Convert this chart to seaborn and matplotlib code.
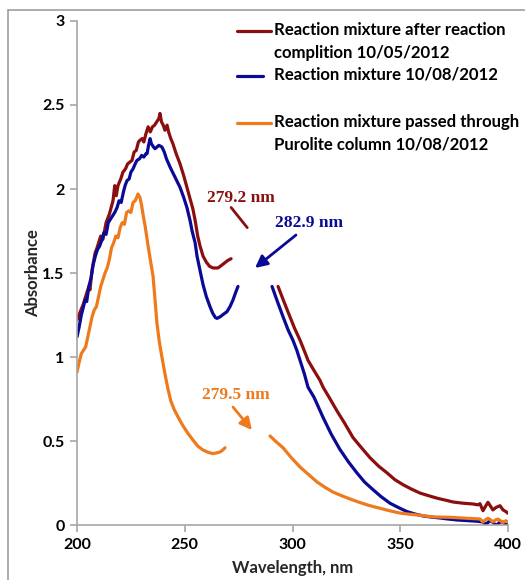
import numpy as np
import pandas as pd
import matplotlib
matplotlib.use("Agg")
import matplotlib.pyplot as plt
from matplotlib.lines import Line2D
import seaborn as sns

# UV-Vis spectra; each series is split into two traces where the peak label sits
after_completion_wl_a = [200, 201.5, 202.8, 204, 205.5, 206, 207, 208.4, 209.3, 211, 212, 213.5, 215,
                         216.7, 217.5, 218.2, 219, 220.3, 221.3, 222.5, 223.5, 224.5, 225.5, 226.5,
                         227.5, 228.5, 229.2, 230.2, 231, 232, 233, 234, 235, 236, 237, 238, 238.5,
                         239.2, 240, 240.8, 241.8, 242.5, 243.5, 244.5, 246, 247.8, 249.5, 251, 252.5,
                         253.8, 255, 256, 257.1, 258.5, 260, 261.5, 263.1, 265.4, 267, 268.5, 270, 271.5]
after_completion_abs_a = [1.22, 1.27, 1.31, 1.36, 1.42, 1.40, 1.52, 1.62, 1.65, 1.72, 1.70, 1.80, 1.85,
                          1.93, 2.02, 1.96, 2.02, 2.06, 2.10, 2.12, 2.15, 2.16, 2.17, 2.22,
                          2.23, 2.28, 2.29, 2.30, 2.28, 2.33, 2.37, 2.34, 2.37, 2.38, 2.40, 2.42, 2.45,
                          2.40, 2.38, 2.35, 2.38, 2.34, 2.30, 2.27, 2.21, 2.15, 2.08, 2.01, 1.94,
                          1.88, 1.80, 1.72, 1.66, 1.60, 1.565, 1.54, 1.53, 1.53, 1.545, 1.56, 1.575, 1.585]
after_completion_wl_b = [293.3, 296, 298.8, 301, 303.5, 306, 307.2, 309.5, 312.8, 314.2, 317, 320.6,
                         324, 328.1, 332, 336, 340, 343.9, 347.5, 351.3, 355, 359.2, 363, 367, 371,
                         374.5, 379, 383.8, 386, 387, 388.4, 389.5, 390.7, 392, 393, 394.5, 396.3,
                         397.7, 399, 400]
after_completion_abs_b = [1.42, 1.33, 1.24, 1.17, 1.10, 1.02, 0.98, 0.93, 0.86, 0.82, 0.76, 0.68,
                          0.61, 0.52, 0.46, 0.40, 0.35, 0.31, 0.27, 0.24, 0.215, 0.19, 0.175, 0.16, 0.148,
                          0.137, 0.13, 0.125, 0.12, 0.127, 0.085, 0.11, 0.135, 0.11, 0.09, 0.105, 0.115,
                          0.09, 0.08, 0.07]

mixture_wl_a = [200, 201, 202, 203, 203.8, 204.5, 205.5, 206.5, 207.5, 208.5, 209.5, 210.5, 211.6,
                212.5, 213.5, 214.5, 215.5, 216.5, 217.5, 218.6, 219.5, 220.5, 221.5, 222.3, 223.2,
                224.2, 225, 226, 227, 227.8, 229, 230, 231, 232, 232.5, 233.2, 233.9, 234.5, 235.5,
                236.2, 237.1, 238, 239.4, 240.5, 241.5, 243.2, 245.5, 247.8, 249.5, 251, 252.5,
                253.4, 254.8, 255.7, 257, 258.5, 260, 261.7, 263, 264.2, 265, 266.5, 268, 269.6,
                271, 272.4, 273.5, 274.7]
mixture_abs_a = [1.12, 1.18, 1.25, 1.30, 1.34, 1.33, 1.42, 1.47, 1.55, 1.60, 1.64, 1.66, 1.70,
                 1.74, 1.73, 1.80, 1.82, 1.84, 1.86, 1.89, 1.93, 1.92, 1.98, 2.02, 2.05,
                 2.06, 2.10, 2.12, 2.15, 2.17, 2.18, 2.20, 2.19, 2.21, 2.21, 2.26, 2.30, 2.27, 2.25,
                 2.24, 2.25, 2.26, 2.25, 2.22, 2.18, 2.13, 2.07, 2.01, 1.95, 1.89, 1.81,
                 1.75, 1.68, 1.60, 1.52, 1.43, 1.36, 1.30, 1.26, 1.235, 1.23, 1.24, 1.255, 1.27,
                 1.30, 1.34, 1.38, 1.42]
mixture_wl_b = [290.5, 293, 295.6, 298, 300.2, 302, 303.5, 305.5, 307.2, 310, 314.2, 318, 322, 326,
                329.9, 333.5, 337.4, 341, 345.2, 349, 353.1, 357, 360.6, 364.5, 368.4, 372, 376.3,
                380, 383.8, 386, 388.4, 389.5, 390.3, 391.5, 392.6, 393.8, 394.9, 396, 397.2,
                398.5, 400]
mixture_abs_b = [1.42, 1.33, 1.24, 1.16, 1.10, 1.04, 0.98, 0.90, 0.82, 0.76, 0.64, 0.54, 0.45, 0.375,
                 0.31, 0.255, 0.21, 0.17, 0.13, 0.105, 0.08, 0.065, 0.054, 0.047, 0.042, 0.036, 0.03,
                 0.027, 0.024, 0.022, 0.018, 0.005, 0.01, 0.025, 0.02, 0.005, 0.0, 0.015, 0.02,
                 0.005, 0.0]

purolite_wl_a = [200, 201, 202, 203, 204, 205, 206, 207, 208, 209, 210, 211, 212, 213, 214, 215,
                 216, 217, 218, 219, 220, 221, 222, 223, 224, 225, 226, 227, 228.3, 229.2, 230,
                 231, 231.6, 233, 234, 235.3, 236.2, 237.1, 238.2, 239.4, 240.8, 242.2, 243.5,
                 245, 247, 249.2, 251.5, 253.8, 256, 258.5, 261, 263.1, 265, 266.4, 267.5, 268.7]
purolite_abs_a = [0.91, 0.97, 1.02, 1.04, 1.06, 1.12, 1.18, 1.24, 1.28, 1.30, 1.36, 1.42, 1.46, 1.50,
                  1.53, 1.58, 1.65, 1.68, 1.72, 1.71, 1.77, 1.80, 1.79, 1.86, 1.87, 1.86, 1.92, 1.93,
                  1.97, 1.95, 1.90, 1.82, 1.78, 1.66, 1.58, 1.48, 1.34, 1.20, 1.09, 1.00, 0.90,
                  0.81, 0.74, 0.69, 0.64, 0.59, 0.545, 0.506, 0.47, 0.446, 0.432, 0.425, 0.43,
                  0.435, 0.445, 0.46]
purolite_wl_b = [289.6, 292, 295.6, 299.5, 303.5, 307.5, 311.4, 315, 318.8, 322.7, 326.7, 330.6,
                 334.6, 338.3, 342, 346, 349.9, 353.9, 357.8, 361.5, 365.2, 369, 373.1, 377, 381,
                 384, 387, 388.4, 389.5, 390.7, 392, 393, 394.2, 395.4, 396.5, 397.7, 399, 400]
purolite_abs_b = [0.53, 0.50, 0.46, 0.40, 0.345, 0.30, 0.256, 0.225, 0.196, 0.175, 0.155, 0.137,
                  0.12, 0.107, 0.095, 0.082, 0.071, 0.065, 0.06, 0.054, 0.048, 0.047, 0.046, 0.043,
                  0.04, 0.038, 0.036, 0.018, 0.03, 0.04, 0.03, 0.018, 0.03, 0.035, 0.025, 0.015,
                  0.025, 0.02]

series_names = [
    "Reaction mixture after reaction\ncomplition 10/05/2012",
    "Reaction mixture 10/08/2012",
    "Reaction mixture passed through\nPurolite column 10/08/2012",
]
series_colors = ["#8B0F0F", "#0A0A96", "#EE7A1C"]
peak_labels = ["279.2 nm", "282.9 nm", "279.5 nm"]

x_ticks = [200, 250, 300, 350, 400]
y_ticks = [0, 0.5, 1, 1.5, 2, 2.5, 3]
y_tick_labels = ["0", "0.5", "1", "1.5", "2", "2.5", "3"]

traces = [
    (series_names[0], "a", after_completion_wl_a, after_completion_abs_a),
    (series_names[0], "b", after_completion_wl_b, after_completion_abs_b),
    (series_names[1], "a", mixture_wl_a, mixture_abs_a),
    (series_names[1], "b", mixture_wl_b, mixture_abs_b),
    (series_names[2], "a", purolite_wl_a, purolite_abs_a),
    (series_names[2], "b", purolite_wl_b, purolite_abs_b),
]
frames = []
for name, part, wl, ab in traces:
    frames.append(pd.DataFrame({"wavelength": wl, "absorbance": ab,
                                "sample": name, "trace": name + part}))
df = pd.concat(frames, ignore_index=True)

sns.set_theme(style="white")
plt.rcParams["font.family"] = ["Lato", "DejaVu Sans"]

fig = plt.figure(figsize=(5.25, 5.8), dpi=100)
ax = fig.add_axes([0.1467, 0.0948, 0.8209, 0.869])

sns.lineplot(data=df, x="wavelength", y="absorbance", hue="sample", units="trace",
             estimator=None, sort=False, hue_order=series_names, palette=series_colors,
             linewidth=2.3, legend=False, ax=ax)

ax.set_xlim(200, 400)
ax.set_ylim(0, 3)
ax.set_xticks(x_ticks)
ax.set_xticklabels([str(t) for t in x_ticks])
ax.set_yticks(y_ticks)
ax.set_yticklabels(y_tick_labels)

axis_gray = "#A6A6A6"
for side in ["top", "right"]:
    ax.spines[side].set_visible(False)
for side in ["left", "bottom"]:
    ax.spines[side].set_color(axis_gray)
    ax.spines[side].set_linewidth(1.2)
ax.tick_params(axis="both", which="major", direction="out", length=5, width=1.2,
               color=axis_gray, labelsize=11.5, labelcolor="black", pad=4)
ax.tick_params(axis="y", left=True)
ax.tick_params(axis="x", bottom=True)
for lab in ax.get_xticklabels() + ax.get_yticklabels():
    lab.set_fontweight("bold")

ax.set_xlabel("Wavelength, nm", fontsize=12, fontweight="bold", labelpad=6)
ax.set_ylabel("Absorbance", fontsize=12, fontweight="bold", labelpad=1)

# Legend: short colour bar aligned with the first line of each label
legend_rows = [(0.980, 0.080), (0.891, 0.060), (0.797, 0.080)]
for (ypos, seg_len), name, color in zip(legend_rows, series_names, series_colors):
    ax.add_line(Line2D([0.371, 0.371 + seg_len], [ypos, ypos], transform=ax.transAxes,
                       color=color, linewidth=2.3, clip_on=False))
    ax.text(0.458, ypos + 0.019, name, transform=ax.transAxes, ha="left", va="top",
            fontsize=12.1, fontweight="bold", linespacing=1.55, color="black")

# Peak annotations
serif = ["Liberation Serif", "DejaVu Serif"]
ax.text(276.1, 1.946, peak_labels[0], color=series_colors[0], ha="center", va="center",
        fontsize=12.5, fontweight="bold", family=serif)
ax.annotate("", xy=(279.0, 1.77), xytext=(271.5, 1.89),
            arrowprops=dict(arrowstyle="-", color=series_colors[0], lw=2,
                            shrinkA=0, shrinkB=0))
ax.text(307.7, 1.80, peak_labels[1], color=series_colors[1], ha="center", va="center",
        fontsize=12.5, fontweight="bold", family=serif)
ax.annotate("", xy=(282.6, 1.53), xytext=(301.6, 1.726),
            arrowprops=dict(arrowstyle="-|>,head_length=0.6,head_width=0.3",
                            color=series_colors[1], lw=2, shrinkA=0, shrinkB=0))
ax.text(273.8, 0.774, peak_labels[2], color=series_colors[2], ha="center", va="center",
        fontsize=12.5, fontweight="bold", family=serif)
ax.annotate("", xy=(281.2, 0.565), xytext=(272.4, 0.702),
            arrowprops=dict(arrowstyle="-|>,head_length=0.6,head_width=0.3",
                            color=series_colors[2], lw=2, shrinkA=0, shrinkB=0))

# Frame around the chart area (top and left edges)
fig.add_artist(Line2D([8 / 525, 1.0], [1 - 10 / 580, 1 - 10 / 580], transform=fig.transFigure,
                      color="#9E9E9E", linewidth=1.2))
fig.add_artist(Line2D([8 / 525, 8 / 525], [0.0, 1 - 10 / 580], transform=fig.transFigure,
                      color="#9E9E9E", linewidth=1.2))

fig.savefig("out.png", dpi=100)
